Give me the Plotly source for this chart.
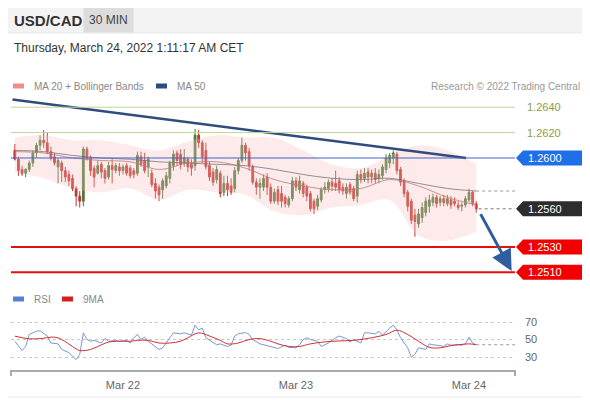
import pandas as pd
import plotly.graph_objects as go

# ---------------------------------------------------------
# DATA  (30 min candles, Mar 21 09:00 -> Mar 24 01:00)
# ---------------------------------------------------------

start_time = "2022-03-21 09:00"

opens = [
    1.2606, 1.2599, 1.2591, 1.2588, 1.2591, 1.2596, 1.2604, 1.2610, 1.2614, 1.2612,
    1.2605, 1.2601, 1.2593, 1.2596, 1.2590, 1.2587, 1.2584, 1.2576, 1.2570, 1.2566,
    1.2607, 1.2600, 1.2592, 1.2588, 1.2595, 1.2590, 1.2585, 1.2594, 1.2590, 1.2593,
    1.2590, 1.2594, 1.2592, 1.2590, 1.2588, 1.2601, 1.2598, 1.2593, 1.2588, 1.2580,
    1.2577, 1.2575, 1.2578, 1.2584, 1.2594, 1.2604, 1.2603, 1.2596, 1.2599, 1.2595,
    1.2594, 1.2618, 1.2612, 1.2606, 1.2594, 1.2589, 1.2583, 1.2588, 1.2573, 1.2580,
    1.2578, 1.2576, 1.2590, 1.2598, 1.2610, 1.2605, 1.2593, 1.2581, 1.2577, 1.2577,
    1.2585, 1.2577, 1.2566, 1.2575, 1.2572, 1.2569, 1.2563, 1.2568, 1.2582, 1.2575,
    1.2580, 1.2577, 1.2572, 1.2566, 1.2562, 1.2567, 1.2575, 1.2576, 1.2581, 1.2580,
    1.2582, 1.2577, 1.2572, 1.2579, 1.2576, 1.2570, 1.2587, 1.2584, 1.2589, 1.2585,
    1.2588, 1.2584, 1.2586, 1.2591, 1.2596, 1.2600, 1.2603, 1.2591, 1.2582, 1.2573,
    1.2566, 1.2555, 1.2548, 1.2553, 1.2557, 1.2562, 1.2565, 1.2569, 1.2565, 1.2568,
    1.2564, 1.2567, 1.2566, 1.2563, 1.2562, 1.2563, 1.2567, 1.2573, 1.2564,
]
highs = [
    1.2611, 1.2601, 1.2594, 1.2592, 1.2598, 1.2606, 1.2612, 1.2618, 1.2622, 1.2620,
    1.2609, 1.2604, 1.2600, 1.2598, 1.2593, 1.2590, 1.2587, 1.2578, 1.2574, 1.2609,
    1.2609, 1.2602, 1.2594, 1.2598, 1.2597, 1.2592, 1.2597, 1.2599, 1.2596, 1.2596,
    1.2595, 1.2596, 1.2594, 1.2592, 1.2605, 1.2605, 1.2604, 1.2601, 1.2591, 1.2584,
    1.2579, 1.2584, 1.2589, 1.2598, 1.2606, 1.2606, 1.2607, 1.2607, 1.2601, 1.2599,
    1.2623, 1.2622, 1.2614, 1.2612, 1.2597, 1.2592, 1.2594, 1.2590, 1.2586, 1.2586,
    1.2584, 1.2593, 1.2600, 1.2616, 1.2612, 1.2608, 1.2595, 1.2584, 1.2584, 1.2587,
    1.2588, 1.2580, 1.2576, 1.2578, 1.2578, 1.2571, 1.2570, 1.2585, 1.2585, 1.2586,
    1.2582, 1.2579, 1.2574, 1.2568, 1.2571, 1.2577, 1.2581, 1.2583, 1.2584, 1.2590,
    1.2585, 1.2580, 1.2580, 1.2581, 1.2578, 1.2590, 1.2591, 1.2592, 1.2592, 1.2591,
    1.2592, 1.2591, 1.2595, 1.2603, 1.2604, 1.2606, 1.2605, 1.2593, 1.2584, 1.2575,
    1.2568, 1.2560, 1.2560, 1.2565, 1.2569, 1.2571, 1.2572, 1.2571, 1.2570, 1.2571,
    1.2571, 1.2570, 1.2569, 1.2566, 1.2565, 1.2570, 1.2576, 1.2574, 1.2566,
]
lows = [
    1.2598, 1.2586, 1.2586, 1.2585, 1.2589, 1.2593, 1.2600, 1.2606, 1.2608, 1.2603,
    1.2598, 1.2594, 1.2580, 1.2581, 1.2581, 1.2578, 1.2574, 1.2562, 1.2561, 1.2562,
    1.2598, 1.2586, 1.2577, 1.2587, 1.2584, 1.2580, 1.2583, 1.2580, 1.2588, 1.2586,
    1.2587, 1.2586, 1.2584, 1.2584, 1.2586, 1.2593, 1.2588, 1.2585, 1.2577, 1.2568,
    1.2566, 1.2568, 1.2576, 1.2580, 1.2590, 1.2594, 1.2591, 1.2593, 1.2589, 1.2586,
    1.2590, 1.2608, 1.2596, 1.2591, 1.2582, 1.2578, 1.2580, 1.2569, 1.2570, 1.2570,
    1.2571, 1.2573, 1.2587, 1.2596, 1.2598, 1.2590, 1.2579, 1.2571, 1.2568, 1.2574,
    1.2571, 1.2564, 1.2564, 1.2563, 1.2561, 1.2561, 1.2561, 1.2566, 1.2574, 1.2572,
    1.2569, 1.2566, 1.2558, 1.2556, 1.2559, 1.2565, 1.2572, 1.2573, 1.2574, 1.2574,
    1.2572, 1.2571, 1.2568, 1.2571, 1.2566, 1.2565, 1.2580, 1.2581, 1.2580, 1.2580,
    1.2580, 1.2580, 1.2583, 1.2588, 1.2592, 1.2595, 1.2587, 1.2578, 1.2569, 1.2558,
    1.2548, 1.2538, 1.2545, 1.2549, 1.2554, 1.2557, 1.2562, 1.2561, 1.2562, 1.2562,
    1.2562, 1.2560, 1.2562, 1.2559, 1.2558, 1.2561, 1.2565, 1.2562, 1.2557,
]
closes = [
    1.2599, 1.2590, 1.2588, 1.2591, 1.2596, 1.2604, 1.2610, 1.2614, 1.2612, 1.2605,
    1.2600, 1.2596, 1.2598, 1.2590, 1.2585, 1.2582, 1.2576, 1.2570, 1.2566, 1.2607,
    1.2600, 1.2590, 1.2585, 1.2594, 1.2589, 1.2584, 1.2594, 1.2591, 1.2594, 1.2590,
    1.2593, 1.2588, 1.2586, 1.2587, 1.2602, 1.2595, 1.2590, 1.2599, 1.2579, 1.2574,
    1.2571, 1.2582, 1.2586, 1.2596, 1.2603, 1.2598, 1.2595, 1.2600, 1.2593, 1.2592,
    1.2618, 1.2612, 1.2601, 1.2593, 1.2585, 1.2581, 1.2591, 1.2572, 1.2580, 1.2575,
    1.2573, 1.2590, 1.2598, 1.2610, 1.2604, 1.2594, 1.2581, 1.2577, 1.2580, 1.2584,
    1.2577, 1.2566, 1.2573, 1.2566, 1.2566, 1.2564, 1.2568, 1.2582, 1.2577, 1.2582,
    1.2572, 1.2570, 1.2560, 1.2560, 1.2568, 1.2575, 1.2577, 1.2581, 1.2578, 1.2577,
    1.2575, 1.2574, 1.2577, 1.2573, 1.2568, 1.2587, 1.2584, 1.2588, 1.2585, 1.2588,
    1.2583, 1.2587, 1.2593, 1.2600, 1.2602, 1.2604, 1.2590, 1.2581, 1.2572, 1.2562,
    1.2551, 1.2550, 1.2556, 1.2561, 1.2566, 1.2567, 1.2569, 1.2564, 1.2568, 1.2565,
    1.2568, 1.2563, 1.2564, 1.2561, 1.2563, 1.2568, 1.2573, 1.2564, 1.2560,
]

# indicator readings, sampled every 8 candles
band_idx = [0, 8, 16, 24, 32, 40, 48, 56, 64, 72, 80, 88, 96, 104, 112, 120, 128]
ma20 = [1.2605, 1.2604, 1.2600, 1.2598, 1.2597, 1.2591, 1.2596, 1.2597, 1.2592,
        1.2583, 1.2578, 1.2575, 1.2576, 1.2583, 1.2578, 1.2569, 1.2563]
ma50 = [1.2606, 1.2605, 1.2602, 1.2600, 1.2599, 1.2597, 1.2596, 1.2595, 1.2594,
        1.2591, 1.2587, 1.2584, 1.2583, 1.2584, 1.2580, 1.2576, 1.2574]
bb_upper = [1.2616, 1.2618, 1.2614, 1.2614, 1.2610, 1.2606, 1.2613, 1.2618, 1.2616,
            1.2616, 1.2606, 1.2595, 1.2592, 1.2602, 1.2610, 1.2606, 1.2595]
bb_lower = [1.2589, 1.2584, 1.2576, 1.2573, 1.2576, 1.2567, 1.2575, 1.2573, 1.2571,
            1.2558, 1.2555, 1.2561, 1.2563, 1.2567, 1.2539, 1.2535, 1.2542]

rsi_idx = [0, 2, 3, 4, 6, 7, 9, 10, 12, 13, 15, 16, 17, 18, 19, 20, 21, 22, 24, 25,
           26, 28, 29, 31, 32, 33, 34, 35, 36, 37, 39, 40, 41, 42, 43, 44, 46, 47, 49, 50,
           51, 52, 53, 55, 56, 57, 59, 60, 61, 62, 64, 65, 66, 68, 69, 71, 72, 73, 75, 76,
           78, 79, 80, 81, 82, 84, 85, 87, 89, 90, 92, 93, 94, 96, 97, 98, 100, 101, 102, 103,
           104, 105, 106, 107, 109, 110, 111, 112, 114, 115, 116, 118, 119, 120, 121, 123, 124, 125, 126, 127,
           128]
rsi = [48, 37.4, 42, 55.7, 59.5, 60, 54, 46, 45, 38.6, 35, 31, 27, 33, 57.6, 50, 48, 49, 46, 51,
       48, 49, 48, 49, 46, 52, 55.7, 50, 52.7, 48, 42, 38.6, 40.5, 46, 52, 57.6, 56.5, 57.6, 55, 66.4,
       61, 63, 52, 46, 44, 45, 42, 43.5, 54, 56.5, 58, 55.7, 50, 45, 44, 42, 41, 39.7, 43.5, 41,
       40.5, 44, 50, 52, 50, 48, 42, 46, 52, 54, 51, 47, 50, 46, 57.6, 57.6, 56.5, 59.5, 55, 59.5,
       63, 66.4, 61, 52, 40.5, 30, 33, 40.5, 38.6, 45, 44, 43, 42, 45, 43.5, 44, 43.5, 45, 52.7, 46,
       44]

rsi_ma_idx = [0, 4, 7, 11, 13, 16, 18, 21, 23, 26, 29, 32, 34, 37, 40, 43, 46, 48, 51, 54,
              57, 59, 62, 65, 68, 71, 73, 76, 79, 82, 88, 94, 99, 103, 106, 109, 112, 115, 118, 121,
              123, 126, 128]
rsi_ma = [53.8, 50.8, 51, 52.7, 50, 42, 37.4, 38.6, 42, 47, 48, 48, 49, 49, 46, 46, 48, 52, 57.6, 54,
          49, 45, 46, 50, 51, 48, 45, 42, 42, 45, 48, 49, 52, 55.7, 60.7, 55.7, 48, 41, 40.5, 43,
          44, 45, 44]

# key levels
resist_levels = [1.2640, 1.2620]
pivot_level = 1.2600
support_levels = [1.2530, 1.2510]
last_price = 1.2560

trend_time = ["2022-03-21 08:40", "2022-03-23 23:35"]
trend_price = [1.2646, 1.2600]

arrow_from = ("2022-03-24 01:30", 1.2557)
arrow_to = ("2022-03-24 05:55", 1.2511)

# ---------------------------------------------------------
# GEOMETRY HELPERS  (screen pixel -> paper)
# the page body adds an 8px margin, so the figure is drawn 8px smaller
# ---------------------------------------------------------

OFF = 8
W, H = 590 - OFF, 400 - OFF
L, R, T, B = 11 - OFF, 75, 95 - OFF, 30
PW, PH = W - L - R, H - T - B


def px(x):
    return (x - OFF - L) / PW


def py(y):
    return (H - B - (y - OFF)) / PH


FONT = "Arial, Liberation Sans, sans-serif"

times = pd.date_range(start_time, periods=len(closes), freq="30min")
band_t = [times[i] for i in band_idx]
rsi_t = [times[i] for i in rsi_idx]
rsi_ma_t = [times[i] for i in rsi_ma_idx]

# ---------------------------------------------------------
# FIGURE
# ---------------------------------------------------------

fig = go.Figure()

fig.add_trace(go.Scatter(
    x=band_t, y=bb_upper, mode="lines", line=dict(width=0, shape="spline"),
    hoverinfo="skip", showlegend=False
))
fig.add_trace(go.Scatter(
    x=band_t, y=bb_lower, mode="lines", line=dict(width=0, shape="spline"),
    fill="tonexty", fillcolor="rgba(248,190,190,0.32)",
    hoverinfo="skip", showlegend=False
))
fig.add_trace(go.Scatter(
    x=band_t, y=ma50, mode="lines",
    line=dict(color="rgba(110,110,125,0.75)", width=1, shape="spline"),
    showlegend=False
))
fig.add_trace(go.Scatter(
    x=band_t, y=ma20, mode="lines",
    line=dict(color="rgba(190,120,120,0.8)", width=1, shape="spline"),
    showlegend=False
))

fig.add_trace(go.Candlestick(
    x=times, open=opens, high=highs, low=lows, close=closes,
    increasing=dict(line=dict(color="#4a7a38", width=1), fillcolor="#4a7a38"),
    decreasing=dict(line=dict(color="#c0352e", width=1), fillcolor="#c0352e"),
    whiskerwidth=0, showlegend=False
))

fig.add_trace(go.Scatter(
    x=trend_time, y=trend_price, mode="lines",
    line=dict(color="#2e4c7c", width=2.5), showlegend=False
))

fig.add_trace(go.Scatter(
    x=rsi_t, y=rsi, mode="lines", yaxis="y2",
    line=dict(color="#7b98d6", width=1), showlegend=False
))
fig.add_trace(go.Scatter(
    x=rsi_ma_t, y=rsi_ma, mode="lines", yaxis="y2",
    line=dict(color="#d03030", width=1, shape="spline"), showlegend=False
))

# ---------------------------------------------------------
# LEVEL LINES + TAGS
# ---------------------------------------------------------

shapes = []
annotations = []


def label(x, y, text, size, color, xanchor="left", xref="paper", yref="paper", **kw):
    annotations.append(dict(xref=xref, yref=yref, x=x, y=y, text=text, showarrow=False,
                            xanchor=xanchor, yanchor="middle",
                            font=dict(family=FONT, size=size, color=color), **kw))


# header band and panel frame
shapes.append(dict(type="rect", xref="paper", yref="paper", layer="below",
                   x0=px(0), x1=px(590), y0=py(0), y1=py(33),
                   fillcolor="#f3f3f3", line=dict(width=0)))
shapes.append(dict(type="rect", xref="paper", yref="paper", layer="below",
                   x0=px(2), x1=px(588), y0=py(33), y1=py(397),
                   fillcolor="rgba(0,0,0,0)", line=dict(color="#e8e8e8", width=1)))

for lv in resist_levels:
    shapes.append(dict(type="line", xref="paper", yref="y", x0=0, x1=1, y0=lv, y1=lv,
                       line=dict(color="#c2d59a", width=1)))
    label(px(525), lv, f"{lv:.4f}", 11, "#8d9d45", yref="y")

shapes.append(dict(type="line", xref="paper", yref="y", x0=0, x1=1,
                   y0=pivot_level, y1=pivot_level, line=dict(color="#4266c8", width=1)))

for lv in support_levels:
    shapes.append(dict(type="line", xref="paper", yref="y", x0=0, x1=1, y0=lv, y1=lv,
                       line=dict(color="#e41010", width=2)))

# dotted markers for last values
x_end = times[-1] + pd.Timedelta(hours=5.4)
shapes.append(dict(type="line", xref="x", yref="y", x0=times[-1] + pd.Timedelta(minutes=20),
                   x1=x_end, y0=last_price, y1=last_price,
                   line=dict(color="#777", width=1, dash="dot")))
shapes.append(dict(type="line", xref="x", yref="y", x0=band_t[-1], x1=x_end,
                   y0=ma50[-1], y1=ma50[-1], line=dict(color="#999", width=1, dash="dot")))
shapes.append(dict(type="line", xref="x", yref="y2", x0=rsi_t[-1], x1=x_end,
                   y0=rsi[-1], y1=rsi[-1], line=dict(color="#999", width=1, dash="dot")))

# price tags
half = 7.5 / 12700
tags = [(pivot_level, "#1f6fe8"), (last_price, "#2d2d2d"),
        (support_levels[0], "#f20000"), (support_levels[1], "#f20000")]
for lv, col in tags:
    x0, x1, x2 = px(516), px(523), px(587)
    path = (f"M {x0},{lv} L {x1},{lv + half} L {x2},{lv + half} "
            f"L {x2},{lv - half} L {x1},{lv - half} Z")
    shapes.append(dict(type="path", xref="paper", yref="y", path=path,
                       fillcolor=col, line=dict(width=0)))
    label(px(526), lv, f"{lv:.4f}", 11, "white", yref="y")

# forecast arrow
annotations.append(dict(
    xref="x", yref="y", axref="x", ayref="y",
    x=arrow_to[0], y=arrow_to[1], ax=arrow_from[0], ay=arrow_from[1],
    text="", showarrow=True, arrowhead=2, arrowsize=1.4, arrowwidth=3,
    arrowcolor="#2f5e9e"
))

# ---------------------------------------------------------
# HEADER + LEGENDS
# ---------------------------------------------------------

label(px(12), py(20), "<b>USD/CAD</b>", 15, "#333")
label(px(108), py(20), "30 MIN", 12, "#444", xanchor="center",
      bgcolor="#dcdcdc", borderpad=5)
label(px(12), py(48), "Thursday, March 24, 2022 1:11:17 AM CET", 12, "#333")

legend_items = [
    (13, 86, "#f08c8c", "MA 20 + Bollinger Bands"),
    (156, 86, "#2e4c7c", "MA 50"),
    (13, 299, "#5b7fd6", "RSI"),
    (62, 299, "#d61e1e", "9MA"),
]
for x, y, col, text in legend_items:
    shapes.append(dict(type="rect", xref="paper", yref="paper",
                       x0=px(x), x1=px(x + 11), y0=py(y + 2.5), y1=py(y - 2.5),
                       fillcolor=col, line=dict(width=0)))
    label(px(x + 19), py(y), text, 10, "#888")

label(px(582), py(86), "Research © 2022 Trading Central", 10, "#999", xanchor="right")

# axis end ticks
for x in (11, 515):
    shapes.append(dict(type="line", xref="paper", yref="paper",
                       x0=px(x), x1=px(x), y0=py(370), y1=py(376),
                       line=dict(color="#aaa", width=2)))

# ---------------------------------------------------------
# LAYOUT
# ---------------------------------------------------------

fig.update_layout(
    width=W, height=H,
    margin=dict(l=L, r=R, t=T, b=B, autoexpand=False),
    paper_bgcolor="white", plot_bgcolor="white",
    font=dict(family=FONT, size=11, color="#666"),
    showlegend=False,
    shapes=shapes,
    annotations=annotations,
    xaxis=dict(
        type="date", anchor="y2",
        range=["2022-03-21 08:28", "2022-03-24 06:23"],
        rangeslider=dict(visible=False),
        tickvals=["2022-03-22", "2022-03-23", "2022-03-24"],
        tickformat="%b %d", ticks="", showgrid=False, zeroline=False,
        showline=True, linecolor="#aaa", linewidth=2, ticklabelstandoff=4,
        tickfont=dict(size=11, color="#666"),
    ),
    yaxis=dict(
        domain=[py(285), 1], range=[1.2500, 1.26496],
        showticklabels=False, showgrid=False, zeroline=False, fixedrange=True,
    ),
    yaxis2=dict(
        domain=[0, py(312)], range=[15.14, 81.43], side="right",
        tickvals=[30, 50, 70], showgrid=True, gridcolor="#c8c8c8", griddash="dot",
        zeroline=False, tickfont=dict(size=11, color="#666"), ticks="",
        ticklabelstandoff=9,
    ),
)

fig.write_html("out.html")
